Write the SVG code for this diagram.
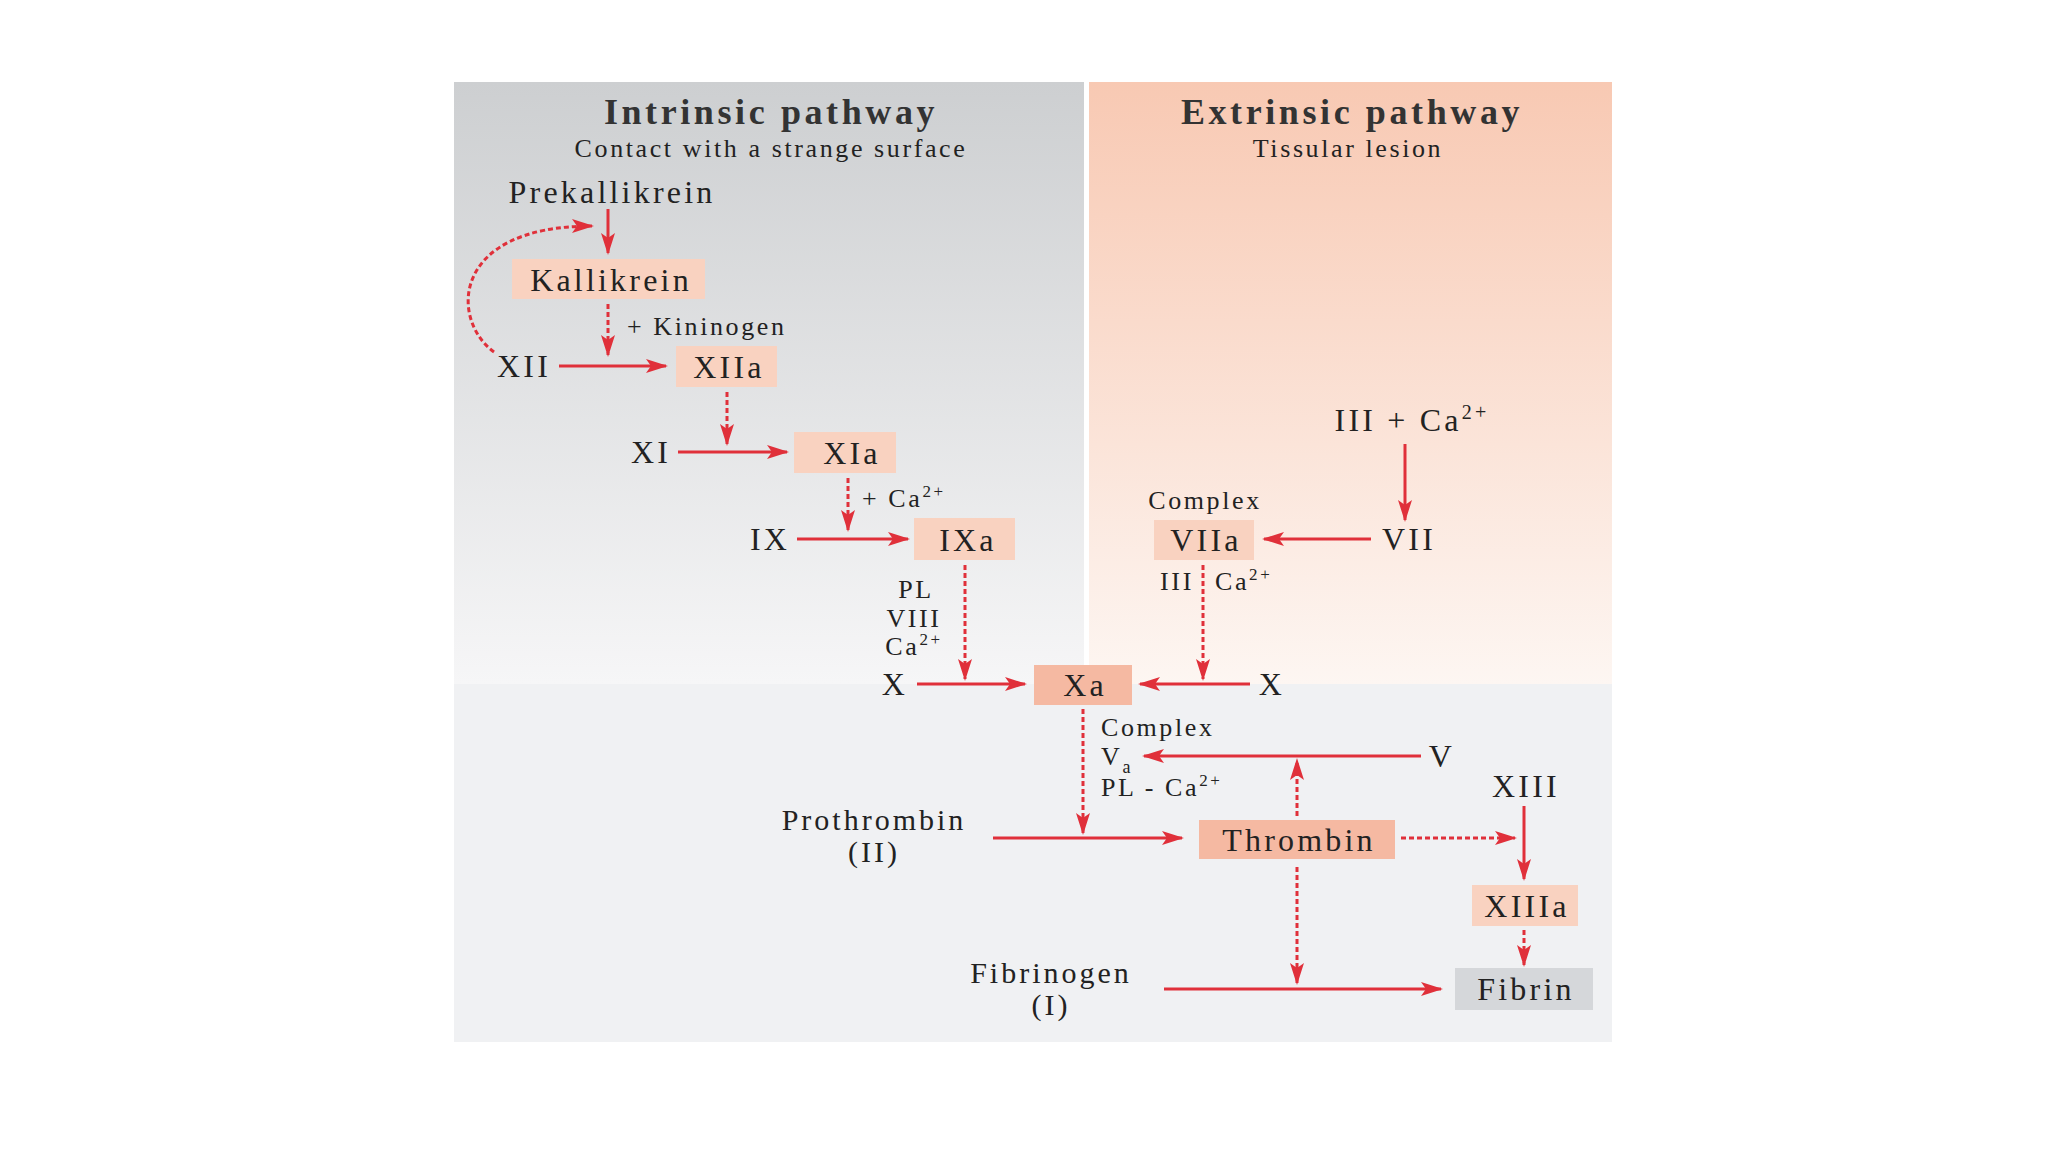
<svg xmlns="http://www.w3.org/2000/svg" width="2048" height="1152" viewBox="0 0 2048 1152">
<defs>
<linearGradient id="gl" x1="0" y1="0" x2="0" y2="1"><stop offset="0" stop-color="#cdcfd1"/><stop offset="1" stop-color="#f6f6f7"/></linearGradient>
<linearGradient id="gr" x1="0" y1="0" x2="0" y2="1"><stop offset="0" stop-color="#f8c9b3"/><stop offset="1" stop-color="#fdf6f2"/></linearGradient>
<marker id="ahb" markerWidth="22" markerHeight="14" refX="20" refY="7" orient="auto" markerUnits="userSpaceOnUse"><path d="M0,0 L22,7 L0,14 L5,7 Z" fill="#e0303a"/></marker>
</defs>
<style>
text{font-family:"Liberation Serif","Times New Roman",serif;fill:#222;letter-spacing:0.1em}
.t{font-size:36px;text-anchor:middle;font-weight:bold;fill:#333}
.s{font-size:26px;text-anchor:middle}
.n{font-size:32px;text-anchor:middle}
.n2{font-size:30px;text-anchor:middle}
.l{font-size:26px}
.b{fill:#f9d2c0}
.d{fill:#f5b9a2}
.c{stroke:#e0303a;stroke-width:3;fill:none;marker-end:url(#ahb)}
.dash{stroke-dasharray:5 3}
</style>
<rect width="2048" height="1152" fill="#fff"/>
<rect x="454" y="82" width="630" height="602" fill="url(#gl)"/>
<rect x="1089" y="82" width="523" height="602" fill="url(#gr)"/>
<rect x="454" y="684" width="1158" height="358" fill="#f0f1f3"/>
<text class="t" x="771" y="124">Intrinsic pathway</text>
<text class="s" x="771" y="157">Contact with a strange surface</text>
<text class="t" x="1352" y="124">Extrinsic pathway</text>
<text class="s" x="1348" y="157">Tissular lesion</text>
<g id="connectors">
<path class="c" d="M608,209 V253"/>
<path class="c dash" d="M494,352 C450,320 450,226 592,226"/>
<path class="c dash" d="M608,304 V355"/>
<path class="c" d="M559,366 H666"/>
<path class="c dash" d="M727,392 V444"/>
<path class="c" d="M678,452 H787"/>
<path class="c dash" d="M848,478 V530"/>
<path class="c" d="M797,539 H908"/>
<path class="c dash" d="M965,565 V679"/>
<path class="c" d="M917,684 H1025"/>
<path class="c" d="M1250,684 H1140"/>
<path class="c" d="M1405,444 V520"/>
<path class="c" d="M1371,539 H1264"/>
<path class="c dash" d="M1203,565 V679"/>
<path class="c dash" d="M1083,709 V833"/>
<path class="c" d="M1421,756 H1144"/>
<path class="c dash" d="M1297,816 V760"/>
<path class="c" d="M993,838 H1182"/>
<path class="c dash" d="M1401,838 H1515"/>
<path class="c" d="M1524,806 V879"/>
<path class="c dash" d="M1524,930 V965"/>
<path class="c dash" d="M1297,867 V983"/>
<path class="c" d="M1164,989 H1441"/>
</g>
<g id="prekallikrein"><text class="n" x="612" y="203">Prekallikrein</text></g>
<g id="kallikrein"><rect class="b" x="512" y="259" width="193" height="40"/><text class="n" x="611" y="291">Kallikrein</text></g>
<g id="kininogen"><text class="l" x="627" y="335">+ Kininogen</text></g>
<g id="xii"><text class="n" x="524" y="377">XII</text></g>
<g id="xiia"><rect class="b" x="676" y="346" width="101" height="41"/><text class="n" x="729" y="378">XIIa</text></g>
<g id="xi"><text class="n" x="651" y="463">XI</text></g>
<g id="xia"><rect class="b" x="794" y="432" width="102" height="41"/><text class="n" x="852" y="464">XIa</text></g>
<g id="ca1"><text class="l" x="862" y="507">+ Ca<tspan font-size="17" dy="-10">2+</tspan></text></g>
<g id="ix"><text class="n" x="770" y="550">IX</text></g>
<g id="ixa"><rect class="b" x="914" y="518" width="101" height="42"/><text class="n" x="968" y="551">IXa</text></g>
<g id="pl"><text class="l" x="916" y="598" text-anchor="middle">PL</text><text class="l" x="914" y="627" text-anchor="middle">VIII</text><text class="l" x="914" y="655" text-anchor="middle">Ca<tspan font-size="17" dy="-10">2+</tspan></text></g>
<g id="x1"><text class="n" x="895" y="695">X</text></g>
<g id="xa"><rect class="d" x="1034" y="665" width="98" height="40"/><text class="n" x="1085" y="696">Xa</text></g>
<g id="x2"><text class="n" x="1272" y="695">X</text></g>
<g id="iii"><text class="n" x="1412" y="431">III + Ca<tspan font-size="20" dy="-12">2+</tspan></text></g>
<g id="vii"><text class="n" x="1409" y="550">VII</text></g>
<g id="complex1"><text class="l" x="1205" y="509" text-anchor="middle">Complex</text></g>
<g id="viia"><rect class="b" x="1154" y="520" width="100" height="40"/><text class="n" x="1206" y="551">VIIa</text></g>
<g id="iiica"><text class="l" x="1177" y="590" text-anchor="middle">III</text><text class="l" x="1215" y="590">Ca<tspan font-size="17" dy="-10">2+</tspan></text></g>
<g id="complex2"><text class="l" x="1101" y="736">Complex</text><text class="l" x="1101" y="765">V<tspan font-size="18" dy="8">a</tspan></text><text class="l" x="1101" y="796">PL - Ca<tspan font-size="17" dy="-10">2+</tspan></text></g>
<g id="v"><text class="n" x="1442" y="767">V</text></g>
<g id="prothrombin"><text class="n2" x="874" y="830">Prothrombin</text><text class="n2" x="874" y="862">(II)</text></g>
<g id="thrombin"><rect class="d" x="1199" y="820" width="196" height="39"/><text class="n" x="1299" y="851">Thrombin</text></g>
<g id="xiii"><text class="n" x="1526" y="797">XIII</text></g>
<g id="xiiia"><rect class="b" x="1472" y="885" width="106" height="41"/><text class="n" x="1527" y="917">XIIIa</text></g>
<g id="fibrinogen"><text class="n2" x="1051" y="983">Fibrinogen</text><text class="n2" x="1051" y="1015">(I)</text></g>
<g id="fibrin"><rect x="1455" y="968" width="138" height="42" fill="#d5d7da"/><text class="n" x="1526" y="1000">Fibrin</text></g>
</svg>
